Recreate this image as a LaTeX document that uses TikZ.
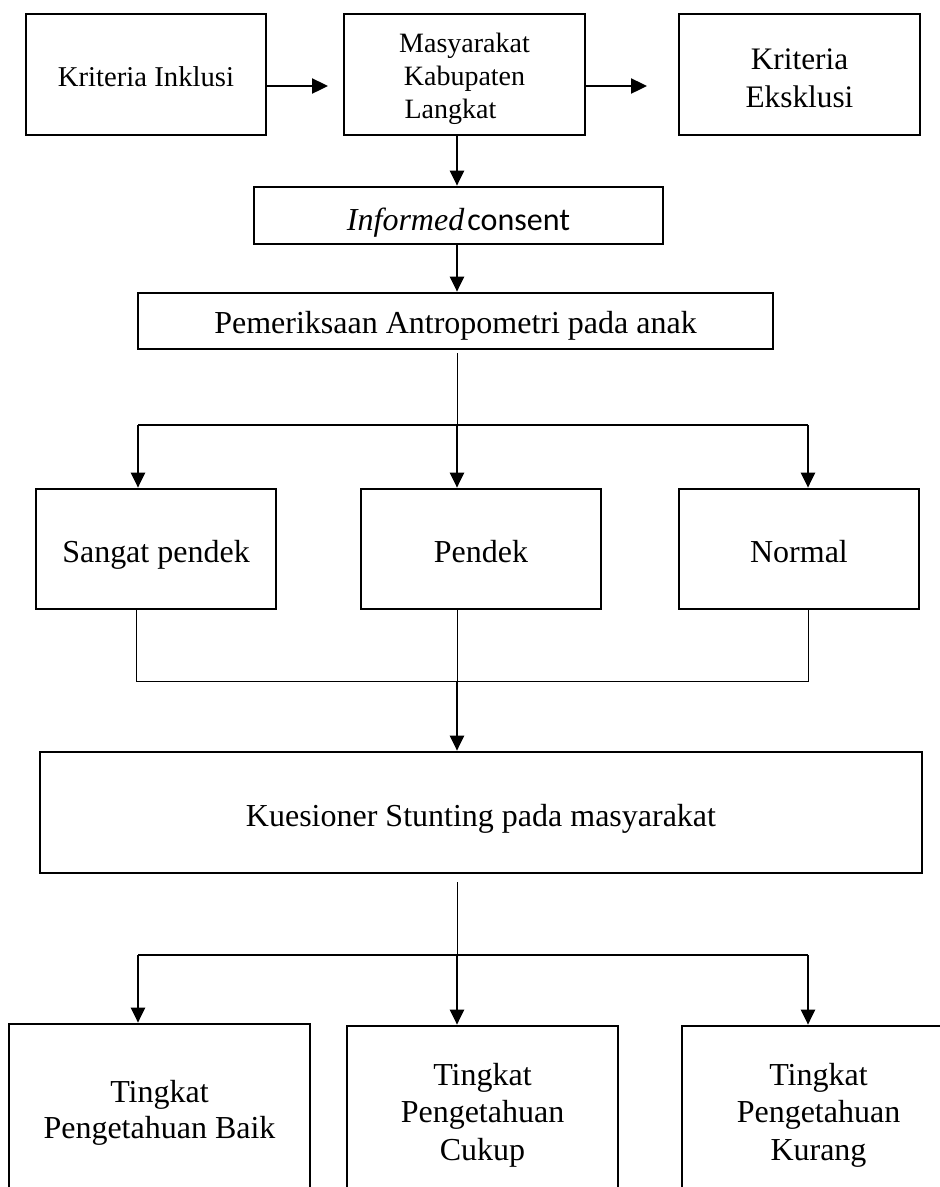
\documentclass[tikz,border=0pt]{standalone}
\usepackage{fontspec}
\setmainfont{Liberation Serif}
\newfontfamily\calfont{Carlito}
\usetikzlibrary{arrows.meta}
\begin{document}
\begin{tikzpicture}[x=1pt,y=-1pt,
  box/.style={draw, line width=2.7pt, inner sep=0pt, align=center, font=\fontsize{32}{36}\selectfont},
  onel/.style={text height=33pt, text depth=7pt},
  arr/.style={line width=2.4pt, -{Triangle[length=15pt,width=14pt]}},
  thinline/.style={line width=1pt},
  barline/.style={line width=1.6pt}]
\fill[white] (0,0) rectangle (940,1187);
\useasboundingbox (0,0) rectangle (940,1187);
\clip (0,0) rectangle (940,1187);

% top row
\node[box, minimum width=240pt, minimum height=121pt, font=\fontsize{28.7}{33}\selectfont, text height=23pt, text depth=0pt] (inkl) at (146,74.5) {Kriteria Inklusi};
\node[box, minimum width=241pt, minimum height=121pt, font=\fontsize{28}{33}\selectfont] (masy) at (464.5,74.5) {\rule{0pt}{28pt}Masyarakat\\Kabupaten\\Langkat\rule{28pt}{0pt}};
\node[box, minimum width=241pt, minimum height=121pt, font=\fontsize{31.3}{38}\selectfont] (ekskl) at (799.5,74.5) {\rule{0pt}{29pt}Kriteria\\Eksklusi};

\node[box, minimum width=409pt, minimum height=57pt, text height=36pt, text depth=7pt] (ic) at (458.5,215.5) {\textit{Informed}\hspace{3pt}{\calfont consent}};
\node[box, minimum width=635pt, minimum height=56pt, text height=31pt, text depth=7pt] (pem) at (455.5,321) {Pemeriksaan Antropometri pada anak};

\node[box, onel, minimum width=240pt, minimum height=120pt] (sp) at (156,549) {Sangat pendek};
\node[box, onel, minimum width=240pt, minimum height=120pt] (pd) at (481,549) {Pendek};
\node[box, onel, minimum width=240pt, minimum height=120pt] (nm) at (799,549) {Normal};

\node[box, minimum width=882pt, minimum height=121pt, text height=34pt, text depth=7pt] (kue) at (481,812.5) {Kuesioner Stunting pada masyarakat};

\node[box, minimum width=301pt, minimum height=177pt] (ta) at (159.5,1112.5) {Tingkat\\Pengetahuan Baik};
\node[box, minimum width=271pt, minimum height=178pt, font=\fontsize{32}{37.5}\selectfont] (tb) at (482.5,1115) {Tingkat\\Pengetahuan\\Cukup};
\node[box, minimum width=273pt, minimum height=178pt, font=\fontsize{32}{37.5}\selectfont] (tc) at (818.5,1115) {Tingkat\\Pengetahuan\\Kurang};

% coordinates
\coordinate (ca1) at (328,86);
\coordinate (ca2) at (647,86);
\coordinate (cx) at (457,0);
\coordinate (b1) at (457,425);
\coordinate (b1l) at (138,425);
\coordinate (b1r) at (808,425);
\coordinate (m1) at (457,681);
\coordinate (m1l) at (136,681);
\coordinate (m1r) at (808,681);
\coordinate (b2) at (457,955);
\coordinate (b2l) at (138,955);
\coordinate (b2r) at (808,955);

% connectors
\draw[arr, -{Triangle[length=16pt,width=15pt]}] (inkl.east |- ca1) -- (ca1);
\draw[arr, -{Triangle[length=16pt,width=15pt]}] (masy.east |- ca2) -- (ca2);
\draw[arr] (masy.south -| cx) -- (ic.north -| cx);
\draw[arr] (ic.south -| cx) -- (pem.north -| cx);

\draw[thinline, shorten <=3pt] (pem.south -| cx) -- (b1);
\draw[barline] (b1l) -- (b1r);
\draw[arr] (b1l) -- (sp.north -| b1l);
\draw[arr] (b1) -- (pd.north -| b1);
\draw[arr] (b1r) -- (nm.north -| b1r);

\draw[thinline] (sp.south -| m1l) -- (m1l) -- (m1r) -- (nm.south -| m1r);
\draw[thinline] (pd.south -| m1) -- (m1);
\draw[arr] (m1) -- (kue.north -| m1);

\draw[thinline, shorten <=8pt] (kue.south -| cx) -- (b2);
\draw[barline] (b2l) -- (b2r);
\draw[arr] (b2l) -- (ta.north -| b2l);
\draw[arr] (b2) -- (tb.north -| b2);
\draw[arr] (b2r) -- (tc.north -| b2r);
\end{tikzpicture}
\end{document}
